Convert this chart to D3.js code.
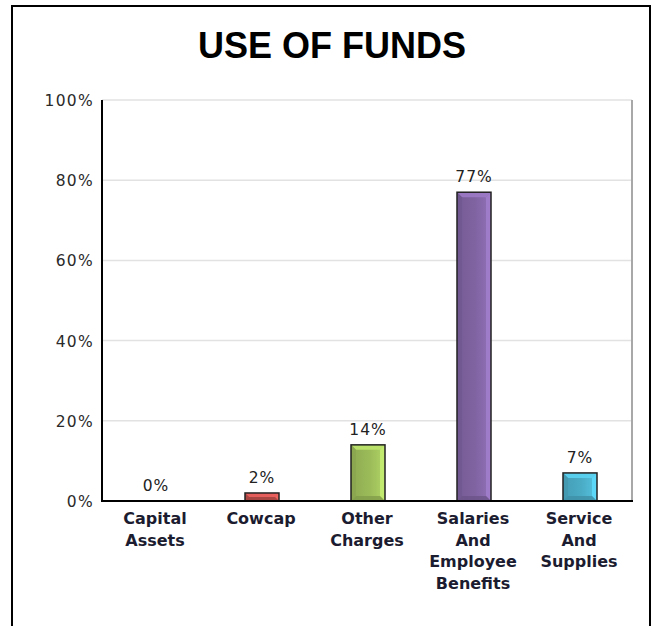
<!DOCTYPE html>
<html>
<head>
<meta charset="utf-8">
<script src="https://cdn.jsdelivr.net/npm/d3@7"></script>
<style>
  html, body { margin: 0; padding: 0; background: #fff; }
  svg { display: block; }
</style>
</head>
<body>
<svg id="chart" width="652" height="626"></svg>
<script>
// Use of funds, share of total by category
const categories = [
  ["Capital", "Assets"],
  ["Cowcap"],
  ["Other", "Charges"],
  ["Salaries", "And", "Employee", "Benefits"],
  ["Service", "And", "Supplies"]
];
const values = [0, 2, 14, 77, 7];
const valueLabels = ["0%", "2%", "14%", "77%", "7%"];
const barColors = ["#c0504d", "#c0504d", "#9bbb59", "#8064a2", "#4bacc6"];
const yTicks = [0, 20, 40, 60, 80, 100];

const svg = d3.select("#chart");
const plot = { left: 102, right: 632, top: 100, bottom: 501 };

// outer frame
svg.append("rect")
  .attr("x", 12).attr("y", 6)
  .attr("width", 638).attr("height", 660)
  .attr("fill", "#fff").attr("stroke", "#000").attr("stroke-width", 2);

// title
svg.append("text")
  .attr("x", 332).attr("y", 58)
  .attr("text-anchor", "middle")
  .attr("font-family", "'Liberation Sans', Arial, sans-serif")
  .attr("font-weight", "bold")
  .attr("font-size", 36)
  .attr("fill", "#000")
  .text("USE OF FUNDS");

const x = d3.scaleBand()
  .domain(d3.range(categories.length))
  .range([plot.left, plot.right])
  .paddingInner(0).paddingOuter(0);

const y = d3.scaleLinear().domain([0, 100]).range([plot.bottom, plot.top]);

// gridlines
svg.append("g")
  .selectAll("line")
  .data(yTicks.filter(t => t > 0))
  .join("line")
  .attr("x1", plot.left).attr("x2", plot.right)
  .attr("y1", d => y(d)).attr("y2", d => y(d))
  .attr("stroke", "#e2e2e2").attr("stroke-width", 1.5);

// right edge of plot
svg.append("line")
  .attr("x1", plot.right).attr("x2", plot.right)
  .attr("y1", plot.top).attr("y2", plot.bottom)
  .attr("stroke", "#a8a8a8").attr("stroke-width", 2);

// y axis labels
const yAxis = d3.axisLeft(y)
  .tickValues(yTicks)
  .tickFormat(d => d + "%")
  .tickSize(0)
  .tickPadding(8);
const yg = svg.append("g")
  .attr("transform", `translate(${plot.left},0)`)
  .call(yAxis);
yg.select(".domain").remove();
yg.selectAll("text")
  .attr("font-family", "'DejaVu Sans', Verdana, sans-serif")
  .attr("font-size", 15.5)
  .attr("letter-spacing", "1.3px")
  .attr("fill", "#2a2a2a")
  .attr("dy", "0.36em");

// bars with bevelled faces
const defs = svg.append("defs");
const bevel = 5;
const barW = 34;

const bars = svg.append("g").selectAll("g")
  .data(values.map((v, i) => ({ v, i })))
  .join("g");

bars.each(function (d) {
  if (d.v <= 0) return;
  const g = d3.select(this);
  const cx = x(d.i) + x.bandwidth() / 2 + 1;
  const x0 = cx - barW / 2, x1 = cx + barW / 2;
  const y0 = y(d.v), y1 = y(0);
  const base = d3.color(barColors[d.i]);
  const gid = "grad" + d.i;
  const grad = defs.append("linearGradient").attr("id", gid)
    .attr("x1", "0").attr("x2", "1").attr("y1", "0").attr("y2", "0");
  grad.append("stop").attr("offset", "0").attr("stop-color", base.darker(0.25));
  grad.append("stop").attr("offset", "0.55").attr("stop-color", base);
  grad.append("stop").attr("offset", "1").attr("stop-color", base.brighter(0.35));

  g.append("rect")
    .attr("x", x0).attr("y", y0)
    .attr("width", barW).attr("height", y1 - y0)
    .attr("fill", `url(#${gid})`);

  const b = Math.min(bevel, (y1 - y0) / 2);
  // top bevel
  g.append("polygon")
    .attr("points", [[x0, y0], [x1, y0], [x1 - b, y0 + b], [x0 + b, y0 + b]].join(" "))
    .attr("fill", base.brighter(0.55)).attr("opacity", 0.9);
  // left bevel
  g.append("polygon")
    .attr("points", [[x0, y0], [x0 + b, y0 + b], [x0 + b, y1 - b], [x0, y1]].join(" "))
    .attr("fill", base.darker(0.35)).attr("opacity", 0.8);
  // right bevel
  g.append("polygon")
    .attr("points", [[x1, y0], [x1 - b, y0 + b], [x1 - b, y1 - b], [x1, y1]].join(" "))
    .attr("fill", base.brighter(0.7)).attr("opacity", 0.8);
  // bottom bevel
  g.append("polygon")
    .attr("points", [[x0, y1], [x0 + b, y1 - b], [x1 - b, y1 - b], [x1, y1]].join(" "))
    .attr("fill", base.darker(0.5)).attr("opacity", 0.8);

  g.append("rect")
    .attr("x", x0).attr("y", y0)
    .attr("width", barW).attr("height", y1 - y0)
    .attr("fill", "none").attr("stroke", "#222").attr("stroke-width", 1.5);
});

// value labels
svg.append("g").selectAll("text")
  .data(values.map((v, i) => ({ v, i })))
  .join("text")
  .attr("x", d => x(d.i) + x.bandwidth() / 2 + 1)
  .attr("y", d => y(d.v) - 10)
  .attr("text-anchor", "middle")
  .attr("font-family", "'DejaVu Sans', Verdana, sans-serif")
  .attr("font-size", 15.5)
  .attr("letter-spacing", "1px")
  .attr("fill", "#222")
  .text(d => valueLabels[d.i]);

// axis lines
svg.append("line")
  .attr("x1", plot.left).attr("x2", plot.left)
  .attr("y1", plot.top).attr("y2", plot.bottom + 1)
  .attr("stroke", "#000").attr("stroke-width", 2);
svg.append("line")
  .attr("x1", plot.left - 1).attr("x2", plot.right + 1)
  .attr("y1", plot.bottom).attr("y2", plot.bottom)
  .attr("stroke", "#000").attr("stroke-width", 2);

// category labels
const cat = svg.append("g").selectAll("text")
  .data(categories)
  .join("text")
  .attr("x", (d, i) => x(i) + x.bandwidth() / 2)
  .attr("y", 524)
  .attr("text-anchor", "middle")
  .attr("font-family", "'DejaVu Sans', Verdana, sans-serif")
  .attr("font-weight", "bold")
  .attr("font-size", 16)
  .attr("fill", "#1c1c30");
cat.selectAll("tspan")
  .data(d => d)
  .join("tspan")
  .attr("x", function () { return d3.select(this.parentNode).attr("x"); })
  .attr("dy", (d, j) => j === 0 ? 0 : 21.5)
  .text(d => d);
</script>
</body>
</html>
